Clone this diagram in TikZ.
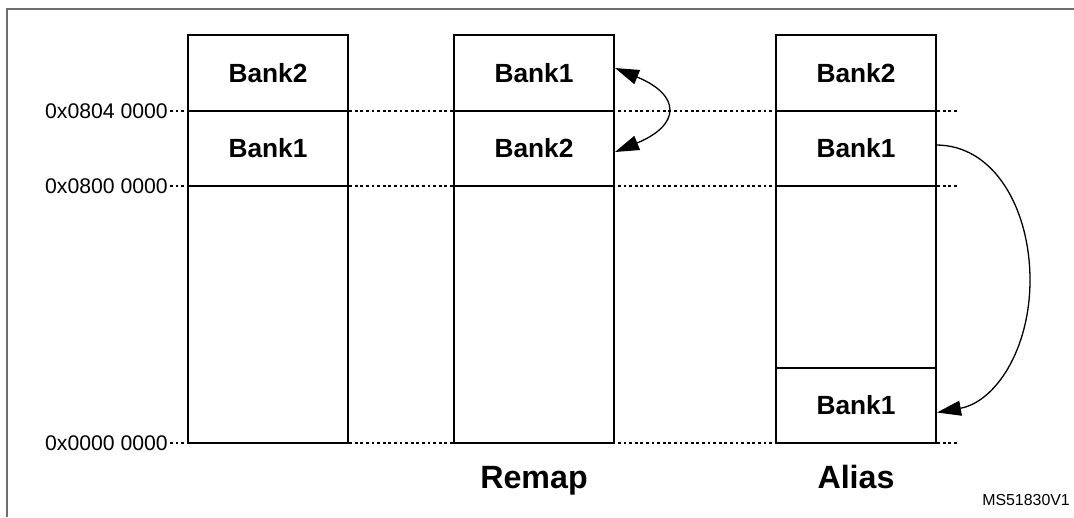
\documentclass[tikz,border=0pt]{standalone}
\usepackage{fontspec}
\setmainfont{Liberation Sans}
\usetikzlibrary{arrows.meta}
\begin{document}
\begin{tikzpicture}[x=1pt,y=-1pt,
 cell/.style={draw=black, line width=1.3pt, minimum width=160pt, inner sep=0pt, outer sep=0pt, anchor=north west, font=\fontsize{26.3}{29}\selectfont\bfseries},
 addr/.style={anchor=east, inner sep=0pt, font=\fontsize{21.2}{24}\selectfont},
 guide/.style={line width=1.3pt, dash pattern=on 2.8pt off 2.8pt},
 title/.style={inner sep=0pt, anchor=base, font=\fontsize{32.2}{35}\selectfont\bfseries},
 tip/.tip={Triangle[length=24pt,width=15pt]},
 conn/.style={line width=1.3pt}]
\useasboundingbox (0,0) rectangle (1074,517);
\draw[line width=2pt, color={rgb,255:red,110;green,110;blue,110}] (7,517) -- (7,9) -- (1074,9);
% address labels
\node[addr] (ad1) at (168,111) {0x0804 0000};
\node[addr] (ad2) at (168,186) {0x0800 0000};
\node[addr] (ad3) at (168,443) {0x0000 0000};
% guides
\draw[guide] (170,111) -- (958,111);
\draw[guide] (170,186) -- (958,186);
\draw[guide] (170,443) -- (958,443);
% left column
\node[cell, minimum height=76pt] (l2) at (188,35) {Bank2};
\node[cell, minimum height=75pt] (l1) at (188,111) {Bank1};
\node[cell, minimum height=257pt] (l0) at (188,186) {};
% remap column
\node[cell, minimum height=76pt] (r1) at (454,35) {Bank1};
\node[cell, minimum height=75pt] (r2) at (454,111) {Bank2};
\node[cell, minimum height=257pt] (r0) at (454,186) {};
% alias column
\node[cell, minimum height=76pt] (a2) at (776,35) {Bank2};
\node[cell, minimum height=75pt] (a1) at (776,111) {Bank1};
\node[cell, minimum height=182pt] (a0) at (776,186) {};
\node[cell, minimum height=75pt] (a3) at (776,368) {Bank1};
% titles
\node[title] (tr) at (534,488) {Remap};
\node[title] (ta) at (856,488) {Alias};
\node[anchor=east, inner sep=0pt, font=\fontsize{15.9}{18}\selectfont] (ms) at (1070,500) {MS51830V1};
% arrows
\draw[conn, tip-tip] ([xshift=1pt,yshift=5pt]r1.east) .. controls (681,95) and (681,125) .. ([xshift=1pt,yshift=-3.5pt]r2.east);
\draw[conn, -tip] ([yshift=3.5pt]a1.east) .. controls (995,145) and (1030,210) .. (1030,280) .. controls (1030,350) and (995,402) .. ([xshift=1pt,yshift=-7pt]a3.east);
\end{tikzpicture}
\end{document}
